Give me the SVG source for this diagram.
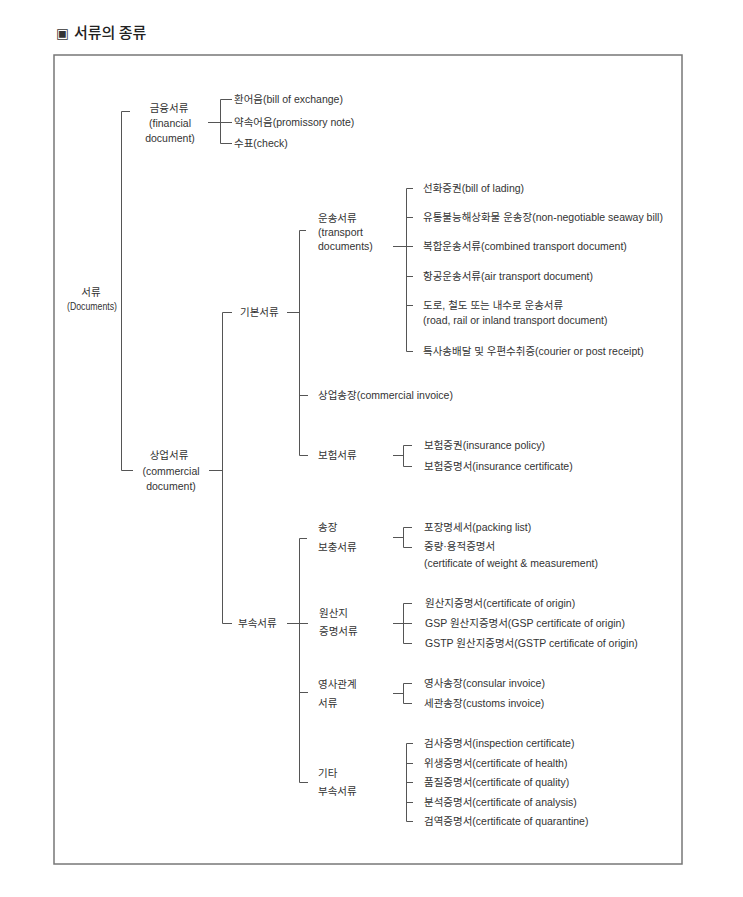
<svg xmlns="http://www.w3.org/2000/svg" width="743" height="897" viewBox="0 0 743 897">
<style>
text{font-family:"Liberation Sans","Noto Sans CJK KR",sans-serif;font-size:10.5px;fill:#333}
.c{text-anchor:middle}
.title{font-family:"Noto Sans CJK KR","Liberation Sans",sans-serif;font-size:15px;font-weight:500;fill:#222}
.ic{font-family:"DejaVu Sans",sans-serif;font-size:13.5px;fill:#333}
#connectors path{fill:none;stroke:#555;stroke-width:1}
.frame{fill:#fff;stroke:#777;stroke-width:1.5}
</style>
<rect width="743" height="897" fill="#fff"/>
<g id="title"><text x="56" y="38" class="ic">▣</text><text x="74" y="38" class="title">서류의 종류</text></g>
<rect class="frame" x="54" y="55" width="628" height="809"/>
<g id="connectors">
<path d="M130,111.5H121.5V470.5H133"/>
<path d="M208,122.5H232M232,99.5H220.5V143.5H232"/>
<path d="M209,470.5H222M232,312.5H222.5V623.5H232"/>
<path d="M287,312.5H299M306,230.5H299.5V455.5H308M299,395.5H308"/>
<path d="M393,246.5H413M413,188.5H406.5V351.5H413M406,217.5H413M406,276.5H413M406,305.5H413"/>
<path d="M393,455.5H403M412,445.5H403.5V466.5H412"/>
<path d="M287,623.5H308M307,538.5H299.5V782.5H308M299,692.5H308"/>
<path d="M393,537.5H403M412,527.5H403.5V547.5H412"/>
<path d="M393,623.5H412M412,603.5H403.5V643.5H412"/>
<path d="M393,693.5H403M412,683.5H403.5V703.5H412"/>
<path d="M413,743.5H406.5V821.5H413M406,763.5H413M406,782.5H413M406,802.5H413"/>
</g>
<g id="root"><text x="91" y="296" class="c">서류</text><text x="67" y="310" textLength="50" lengthAdjust="spacingAndGlyphs">(Documents)</text></g>
<g id="financial"><text x="169" y="112" class="c">금융서류</text><text x="170" y="127" class="c">(financial</text><text x="170" y="142" class="c">document)</text></g>
<g id="financial-items"><text x="234" y="103">환어음(bill of exchange)</text><text x="234" y="126">약속어음(promissory note)</text><text x="234" y="147">수표(check)</text></g>
<g id="commercial"><text x="169" y="459" class="c">상업서류</text><text x="171" y="475" class="c">(commercial</text><text x="171" y="490" class="c">document)</text></g>
<g id="basic"><text x="240" y="316">기본서류</text></g>
<g id="transport"><text x="318" y="222">운송서류</text><text x="318" y="236">(transport</text><text x="318" y="250">documents)</text></g>
<g id="transport-items">
<text x="423" y="192">선화증권(bill of lading)</text>
<text x="423" y="221">유통불능해상화물 운송장(non-negotiable seaway bill)</text>
<text x="423" y="250">복합운송서류(combined transport document)</text>
<text x="423" y="280">항공운송서류(air transport document)</text>
<text x="423" y="309">도로, 철도 또는 내수로 운송서류</text>
<text x="423" y="324">(road, rail or inland transport document)</text>
<text x="423" y="355">특사송배달 및 우편수취증(courier or post receipt)</text>
</g>
<g id="invoice"><text x="318" y="399">상업송장(commercial invoice)</text></g>
<g id="insurance"><text x="318" y="459">보험서류</text></g>
<g id="insurance-items"><text x="424" y="449">보험증권(insurance policy)</text><text x="424" y="470">보험증명서(insurance certificate)</text></g>
<g id="additional"><text x="238" y="627">부속서류</text></g>
<g id="supplement"><text x="318" y="531">송장</text><text x="318" y="551">보충서류</text></g>
<g id="supplement-items"><text x="424" y="531">포장명세서(packing list)</text><text x="424" y="550">중량·용적증명서</text><text x="424" y="567">(certificate of weight &amp; measurement)</text></g>
<g id="origin"><text x="319" y="617">원산지</text><text x="319" y="635">증명서류</text></g>
<g id="origin-items"><text x="425" y="607">원산지증명서(certificate of origin)</text><text x="425" y="627">GSP 원산지증명서(GSP certificate of origin)</text><text x="425" y="647">GSTP 원산지증명서(GSTP certificate of origin)</text></g>
<g id="consular"><text x="318" y="688">영사관계</text><text x="318" y="707">서류</text></g>
<g id="consular-items"><text x="424" y="687">영사송장(consular invoice)</text><text x="424" y="707">세관송장(customs invoice)</text></g>
<g id="other"><text x="318" y="777">기타</text><text x="318" y="795">부속서류</text></g>
<g id="other-items">
<text x="424" y="747">검사증명서(inspection certificate)</text>
<text x="424" y="767">위생증명서(certificate of health)</text>
<text x="424" y="786">품질증명서(certificate of quality)</text>
<text x="424" y="806">분석증명서(certificate of analysis)</text>
<text x="424" y="825">검역증명서(certificate of quarantine)</text>
</g>
</svg>
